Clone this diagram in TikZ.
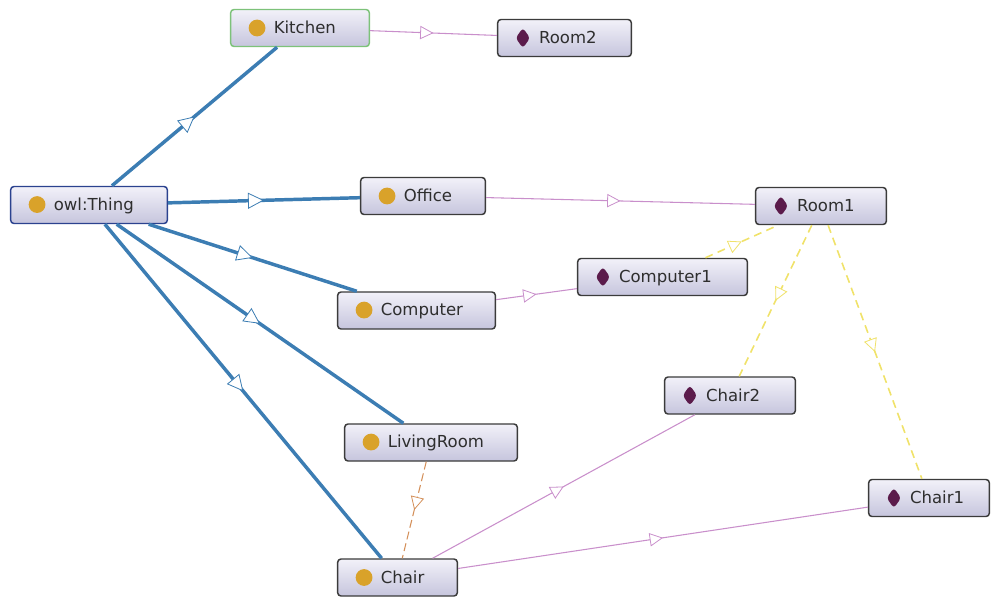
\documentclass[tikz,border=0pt]{standalone}
\usepackage{fontspec}
\setmainfont{DejaVu Sans}
\usepackage{xcolor}
\definecolor{OGisa}{HTML}{3C7DB3}
\definecolor{OGprop}{HTML}{C98FCB}
\definecolor{OGyellow}{HTML}{F0E26A}
\definecolor{OGorange}{HTML}{D4905A}
\definecolor{OGdot}{HTML}{D9A22A}
\definecolor{OGind}{HTML}{5B1B4B}
\definecolor{OGedge}{HTML}{3B3B3B}
\definecolor{OGtop}{HTML}{F2F1F9}
\definecolor{OGbot}{HTML}{C6C5DD}
\definecolor{OGthing}{HTML}{2B428F}
\definecolor{OGgreen}{HTML}{7DC27A}
\definecolor{OGtext}{HTML}{2E2E2E}
\usetikzlibrary{arrows.meta, decorations.markings}

% class dot and individual diamond
\newcommand{\clsicon}{\tikz[baseline=-0.65ex]\fill[OGdot] (0,0) circle (6.3pt);}
\newcommand{\indicon}{\tikz[baseline=-0.65ex]\fill[OGind] (0,7.6pt) -- (5.4pt,0) -- (0,-7.6pt) -- (-5.4pt,0) -- cycle;}

\begin{document}
\begin{tikzpicture}[x=0.75pt, y=-0.75pt]
  \tikzset{
    ogbox/.style={draw=OGedge, line width=1.1pt, rounded corners=2.5pt,
      top color=OGtop, bottom color=OGbot, minimum height=27.75pt,
      inner xsep=13.5pt, inner ysep=0pt, align=left, text=OGtext,
      font=\fontsize{12.4}{14}\selectfont},
    midtri/.style={postaction={decorate, decoration={markings,
      mark=at position 0.5 with {\arrow{Triangle[fill=white, length=#1, width=#1, line width=0.6pt]}}}}},
    isa/.style={OGisa, line width=2.6pt, midtri=12pt},
    prop/.style={OGprop, line width=0.8pt, midtri=10pt},
    inroom/.style={OGyellow, line width=1.2pt, dash pattern=on 6pt off 4pt, midtri=10pt},
    livesin/.style={OGorange, line width=0.8pt, dash pattern=on 6pt off 3pt, midtri=10pt},
  }
  \useasboundingbox (0,0) rectangle (992,596);

  % classes
  \node[ogbox, draw=OGthing, text width=90.5pt] (thing) at (89,205) {\clsicon\hspace{6.25pt}owl:Thing};
  \node[ogbox, draw=OGgreen, text width=77pt] (kitchen) at (300,28) {\clsicon\hspace{6.25pt}Kitchen};
  \node[ogbox, text width=66.5pt] (office) at (423,196) {\clsicon\hspace{6.25pt}Office};
  \node[ogbox, text width=91.25pt] (computer) at (416.5,310.5) {\clsicon\hspace{6.25pt}Computer};
  \node[ogbox, text width=102.5pt] (livingroom) at (431,442.5) {\clsicon\hspace{6.25pt}LivingRoom};
  \node[ogbox, text width=62.75pt] (chair) at (397.5,577.5) {\clsicon\hspace{6.25pt}Chair};

  % individuals
  \node[ogbox, text width=73.25pt] (room2) at (564.5,38) {\indicon\hspace{6.75pt}Room2};
  \node[ogbox, text width=71pt] (room1) at (821,206) {\indicon\hspace{6.75pt}Room1};
  \node[ogbox, text width=100.25pt] (computer1) at (662.5,277) {\indicon\hspace{6.75pt}Computer1};
  \node[ogbox, text width=71pt] (chair2) at (730,395.5) {\indicon\hspace{6.75pt}Chair2};
  \node[ogbox, text width=63.5pt] (chair1) at (929,498) {\indicon\hspace{6.75pt}Chair1};

  % subclass edges
  \draw[isa] (thing) -- (kitchen);
  \draw[isa] (thing) -- (office);
  \draw[isa] (thing) -- (computer);
  \draw[isa] (thing) -- (livingroom);
  \draw[isa] (thing) -- (chair);

  % instance edges
  \draw[prop] (kitchen) -- (room2);
  \draw[prop] (office) -- (room1);
  \draw[prop] (computer) -- (computer1);
  \draw[prop] (chair) -- (chair2);
  \draw[prop] (chair) -- (chair1);

  % object properties
  \draw[inroom] (computer1) -- (room1);
  \draw[inroom] (room1) -- (chair2);
  \draw[inroom] (room1) -- (chair1);
  \draw[livesin] (livingroom) -- (chair);
\end{tikzpicture}
\end{document}
